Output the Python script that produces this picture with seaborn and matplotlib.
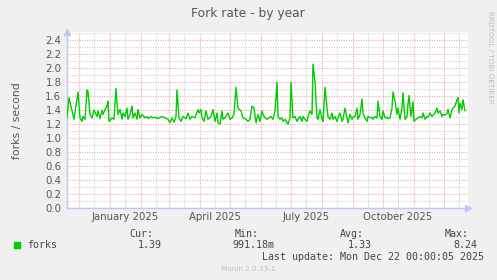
import matplotlib
matplotlib.use("Agg")
import matplotlib.pyplot as plt
import matplotlib.dates as mdates
from matplotlib.ticker import MultipleLocator, FuncFormatter
import seaborn as sns
import pandas as pd

# ---------------- data ----------------
start_date = "2024-11-19"
end_date = "2025-12-25"

day_offsets = [
    0, 2, 5, 7, 11, 13, 15, 16, 18, 20, 21, 23, 25, 27, 30, 31, 33, 35, 36, 38,
    40, 41, 42, 45, 47, 49, 51, 53, 55, 56, 58, 60, 61, 63, 65, 66, 68, 70, 71, 73,
    75, 78, 80, 81, 84, 86, 88, 91, 95, 98, 101, 103, 105, 107, 109, 110, 112, 114, 116, 119,
    121, 123, 125, 128, 131, 132, 134, 135, 137, 139, 141, 144, 146, 148, 150, 151, 153, 155, 156, 158,
    161, 163, 165, 167, 169, 171, 174, 176, 179, 181, 183, 185, 187, 189, 191, 193, 195, 196, 198, 200,
    202, 204, 206, 208, 210, 211, 213, 215, 216, 218, 220, 221, 223, 224, 226, 228, 230, 231, 233, 235,
    236, 238, 240, 241, 243, 245, 246, 248, 250, 251, 253, 255, 256, 258, 260, 261, 263, 265, 266, 268,
    270, 271, 273, 275, 276, 278, 280, 281, 283, 285, 286, 288, 290, 291, 293, 295, 296, 298, 300, 301,
    303, 305, 306, 308, 310, 311, 313, 315, 316, 318, 320, 321, 323, 325, 326, 328, 330, 331, 333, 335,
    336, 338, 340, 341, 342, 344, 346, 347, 349, 351, 353, 355, 356, 358, 360, 361, 363, 365, 366, 368,
    370, 371, 373, 375, 376, 378, 380, 381, 383, 385, 386, 388, 390, 391, 392, 393, 395, 396, 398,
]

fork_rates = [
    1.29, 1.58, 1.39, 1.27, 1.66, 1.29, 1.24, 1.31, 1.27, 1.69, 1.67, 1.34, 1.29, 1.40, 1.31, 1.39, 1.28, 1.40, 1.34, 1.41,
    1.46, 1.53, 1.24, 1.29, 1.27, 1.71, 1.34, 1.41, 1.27, 1.36, 1.31, 1.43, 1.27, 1.34, 1.46, 1.29, 1.36, 1.27, 1.41, 1.29,
    1.34, 1.29, 1.31, 1.28, 1.31, 1.29, 1.30, 1.28, 1.31, 1.29, 1.27, 1.22, 1.29, 1.23, 1.31, 1.69, 1.29, 1.24, 1.31, 1.28,
    1.36, 1.27, 1.31, 1.29, 1.41, 1.36, 1.41, 1.29, 1.24, 1.39, 1.27, 1.31, 1.41, 1.24, 1.36, 1.22, 1.20, 1.39, 1.27, 1.29,
    1.36, 1.27, 1.29, 1.34, 1.73, 1.43, 1.39, 1.29, 1.27, 1.24, 1.27, 1.46, 1.43, 1.22, 1.34, 1.24, 1.39, 1.34, 1.29, 1.27,
    1.29, 1.31, 1.27, 1.39, 1.80, 1.31, 1.27, 1.29, 1.24, 1.27, 1.22, 1.20, 1.29, 1.80, 1.29, 1.31, 1.24, 1.27, 1.31, 1.24,
    1.31, 1.27, 1.24, 1.31, 1.39, 1.34, 2.06, 1.81, 1.29, 1.27, 1.41, 1.27, 1.24, 1.73, 1.43, 1.31, 1.27, 1.36, 1.27, 1.31,
    1.24, 1.29, 1.36, 1.24, 1.27, 1.43, 1.29, 1.22, 1.34, 1.27, 1.30, 1.31, 1.43, 1.27, 1.34, 1.56, 1.36, 1.29, 1.24, 1.31,
    1.29, 1.30, 1.27, 1.31, 1.29, 1.53, 1.31, 1.27, 1.39, 1.29, 1.30, 1.28, 1.29, 1.43, 1.66, 1.53, 1.34, 1.43, 1.27, 1.43,
    1.65, 1.27, 1.31, 1.48, 1.61, 1.31, 1.52, 1.24, 1.27, 1.29, 1.31, 1.29, 1.36, 1.27, 1.31, 1.30, 1.36, 1.31, 1.33, 1.36,
    1.43, 1.36, 1.39, 1.31, 1.34, 1.33, 1.35, 1.41, 1.29, 1.41, 1.43, 1.46, 1.55, 1.58, 1.36, 1.50, 1.41, 1.55, 1.39,
]

y_ticks = [0.0, 0.2, 0.4, 0.6, 0.8, 1.0, 1.2, 1.4, 1.6, 1.8, 2.0, 2.2, 2.4]
x_label_months = [1, 4, 7, 10]

legend_name = "forks"
legend_heads = ["Cur:", "Min:", "Avg:", "Max:"]
legend_values = ["1.39", "991.18m", "1.33", "8.24"]
last_update = "Last update: Mon Dec 22 00:00:05 2025"

# ---------------- figure ----------------
df = pd.DataFrame({
    "date": pd.Timestamp(start_date) + pd.to_timedelta(day_offsets, unit="D"),
    "forks": fork_rates,
})

sns.set_style("white")
plt.rcParams["font.family"] = ["DejaVu Sans"]

W, H = 497, 280
fig = plt.figure(figsize=(W / 100, H / 100), dpi=100, facecolor="#F0F0F0")
ax = fig.add_axes([67 / W, 72 / H, 401 / W, 176 / H])
ax.set_facecolor("white")

sns.lineplot(data=df, x="date", y="forks", color="#00CC00", linewidth=1.0,
             ax=ax, legend=False, zorder=3)

ax.set_xlim(pd.Timestamp(start_date), pd.Timestamp(end_date))
ax.set_ylim(0, 2.52)

# grids
ax.set_yticks(y_ticks)
ax.yaxis.set_minor_locator(MultipleLocator(0.1))
ax.yaxis.set_major_formatter(FuncFormatter(lambda v, p: f"{v:.1f}"))

ax.xaxis.set_major_locator(mdates.MonthLocator(bymonthday=1))
ax.xaxis.set_major_formatter(FuncFormatter(lambda v, p: ""))
ax.xaxis.set_minor_locator(mdates.MonthLocator(bymonthday=16))

def minor_fmt(v, p):
    d = mdates.num2date(v)
    return d.strftime("%B %Y") if d.month in x_label_months else ""

ax.xaxis.set_minor_formatter(FuncFormatter(minor_fmt))

ax.grid(which="major", color="#F4A8A8", linestyle=(0, (1, 1.2)), linewidth=0.8)
ax.grid(which="minor", color="#D2D2D2", linestyle=(0, (1, 1.2)), linewidth=0.8)
ax.set_axisbelow(True)

for s in ["top", "right"]:
    ax.spines[s].set_visible(False)
for s in ["left", "bottom"]:
    ax.spines[s].set_color("#C4C4F0")
    ax.spines[s].set_linewidth(1.0)

ax.tick_params(axis="y", which="both", length=2, width=0.8, color="#C4C4F0",
               labelsize=7.3, labelcolor="#555555", pad=2)
ax.tick_params(axis="x", which="major", length=3, width=0.8, color="#F08080")
ax.tick_params(axis="x", which="minor", length=2, width=0.8, color="#C8C8C8",
               labelsize=7.3, labelcolor="#555555", pad=1)
ax.set_xlabel("")
ax.set_ylabel("")

# axis arrows
ax.plot([0], [1.0], marker="^", markersize=4, color="#C4C4F0",
        transform=ax.transAxes, clip_on=False)
ax.plot([1.0], [0], marker=">", markersize=4, color="#C4C4F0",
        transform=ax.transAxes, clip_on=False)


def px(x, y):
    return x / W, 1 - y / H


fig.text(*px(248, 14), "Fork rate - by year", ha="center", va="center",
         fontsize=8.8, color="#555555")
fig.text(*px(17, 121), "forks / second", ha="center", va="center",
         rotation=90, fontsize=7.8, color="#555555")
fig.text(*px(490, 57), "RRDTOOL / TOBI OETIKER", ha="center", va="center",
         rotation=270, fontsize=5.2, color="#BBBBBB")

mono = "DejaVu Sans Mono"
fs = 7.2
fig.patches.append(plt.Rectangle(px(14, 248), 6 / W, 6 / H, transform=fig.transFigure,
                                 color="#00CC00", figure=fig))
fig.text(*px(27, 245), legend_name, ha="left", va="center", family=mono, fontsize=fs, color="#444444")
head_x = [153, 259, 364, 469]
val_x = [162, 274, 372, 477]
for hx, h in zip(head_x, legend_heads):
    fig.text(*px(hx, 234), h, ha="right", va="center", family=mono, fontsize=fs, color="#444444")
for vx, v in zip(val_x, legend_values):
    fig.text(*px(vx, 245), v, ha="right", va="center", family=mono, fontsize=fs, color="#444444")
fig.text(*px(484, 257), last_update, ha="right", va="center", family=mono, fontsize=fs, color="#444444")
fig.text(*px(248, 269), "Munin 2.0.33-1", ha="center", va="center", fontsize=5.2, color="#BBBBBB")

fig.savefig("out.png", dpi=100, facecolor=fig.get_facecolor())
